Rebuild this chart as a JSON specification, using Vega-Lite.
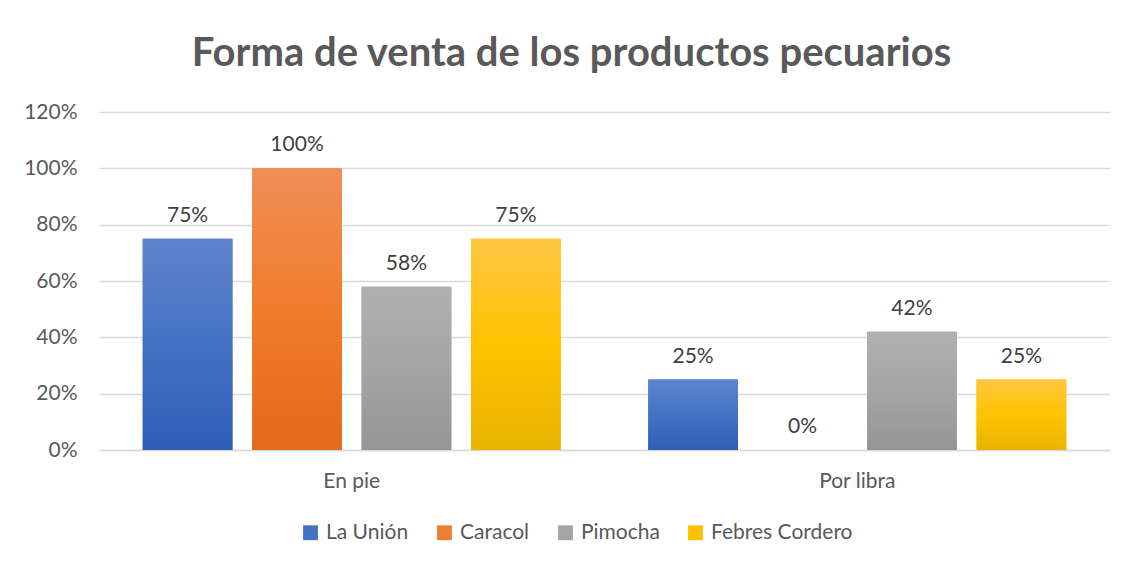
{
  "$schema": "https://vega.github.io/schema/vega-lite/v6.json",
  "autosize": "none",
  "width": 1011,
  "height": 338,
  "padding": {"left": 99, "top": 112, "right": 22, "bottom": 117},
  "background": "white",
  "title": {
    "text": "Forma de venta de los productos pecuarios",
    "font": "Lato",
    "fontSize": 40,
    "fontWeight": "bold",
    "color": "#595959",
    "anchor": "middle",
    "offset": 27,
    "dx": -33
  },
  "data": {
    "values": [
      {"categoria": "En pie", "municipio": "La Unión", "valor": 0.75},
      {"categoria": "En pie", "municipio": "Caracol", "valor": 1.0},
      {"categoria": "En pie", "municipio": "Pimocha", "valor": 0.58},
      {"categoria": "En pie", "municipio": "Febres Cordero", "valor": 0.75},
      {"categoria": "Por libra", "municipio": "La Unión", "valor": 0.25},
      {"categoria": "Por libra", "municipio": "Caracol", "valor": 0.0},
      {"categoria": "Por libra", "municipio": "Pimocha", "valor": 0.42},
      {"categoria": "Por libra", "municipio": "Febres Cordero", "valor": 0.25}
    ]
  },
  "encoding": {
    "x": {
      "field": "categoria",
      "type": "nominal",
      "sort": ["En pie", "Por libra"],
      "scale": {"paddingInner": 0.173, "paddingOuter": 0.0865},
      "axis": {
        "title": null,
        "labelAngle": 0,
        "labelFont": "Lato",
        "labelFontSize": 21,
        "labelColor": "#595959",
        "labelPadding": 20,
        "ticks": false,
        "domain": true,
        "domainColor": "#D9D9D9",
        "domainWidth": 1.5,
        "grid": false
      }
    },
    "xOffset": {
      "field": "municipio",
      "type": "nominal",
      "sort": ["La Unión", "Caracol", "Pimocha", "Febres Cordero"],
      "scale": {"paddingInner": 0.18, "paddingOuter": 0}
    },
    "y": {
      "field": "valor",
      "type": "quantitative",
      "scale": {"domain": [0, 1.2]},
      "axis": {
        "title": null,
        "format": ".0%",
        "values": [0, 0.2, 0.4, 0.6, 0.8, 1.0, 1.2],
        "labelFont": "Lato",
        "labelFontSize": 21,
        "labelColor": "#595959",
        "labelPadding": 22,
        "ticks": false,
        "domain": false,
        "grid": true,
        "gridColor": "#D9D9D9",
        "gridWidth": 1.5
      }
    }
  },
  "layer": [
    {
      "mark": {"type": "bar"},
      "encoding": {
        "color": {
          "field": "municipio",
          "type": "nominal",
          "sort": ["La Unión", "Caracol", "Pimocha", "Febres Cordero"],
          "scale": {
            "domain": ["La Unión", "Caracol", "Pimocha", "Febres Cordero"],
            "range": ["#4472C4", "#ED7D31", "#A5A5A5", "#FFC000"]
          },
          "legend": {
            "title": null,
            "orient": "none",
            "direction": "horizontal",
            "legendX": 201,
            "legendY": 410,
            "symbolType": "square",
            "symbolSize": 220,
            "symbolStrokeWidth": 0,
            "symbolOpacity": 1,
            "labelFont": "Lato",
            "labelFontSize": 21,
            "labelColor": "#595959",
            "columnPadding": 25,
            "labelOffset": 5
          }
        }
      }
    },
    {
      "mark": {"type": "bar"},
      "encoding": {
        "color": {
          "condition": [
            {"test": "datum.municipio === 'La Unión'", "value": {"gradient": "linear", "x1": 0, "y1": 0, "x2": 0, "y2": 1, "stops": [{"offset": 0, "color": "#5E84CD"}, {"offset": 0.5, "color": "#4472C4"}, {"offset": 1, "color": "#2F5EB7"}]}},
            {"test": "datum.municipio === 'Caracol'", "value": {"gradient": "linear", "x1": 0, "y1": 0, "x2": 0, "y2": 1, "stops": [{"offset": 0, "color": "#F18E58"}, {"offset": 0.5, "color": "#F07C2A"}, {"offset": 1, "color": "#E46A17"}]}},
            {"test": "datum.municipio === 'Pimocha'", "value": {"gradient": "linear", "x1": 0, "y1": 0, "x2": 0, "y2": 1, "stops": [{"offset": 0, "color": "#B0B0B0"}, {"offset": 0.5, "color": "#A5A5A5"}, {"offset": 1, "color": "#959595"}]}}
          ],
          "value": {"gradient": "linear", "x1": 0, "y1": 0, "x2": 0, "y2": 1, "stops": [{"offset": 0, "color": "#FFC643"}, {"offset": 0.5, "color": "#FFC300"}, {"offset": 1, "color": "#E8B400"}]}
        }
      }
    },
    {
      "mark": {"type": "text", "baseline": "bottom", "dy": -13, "font": "Lato", "fontSize": 21, "color": "#404040"},
      "encoding": {
        "text": {"field": "valor", "type": "quantitative", "format": ".0%"}
      }
    }
  ],
  "config": {"view": {"stroke": null}}
}
